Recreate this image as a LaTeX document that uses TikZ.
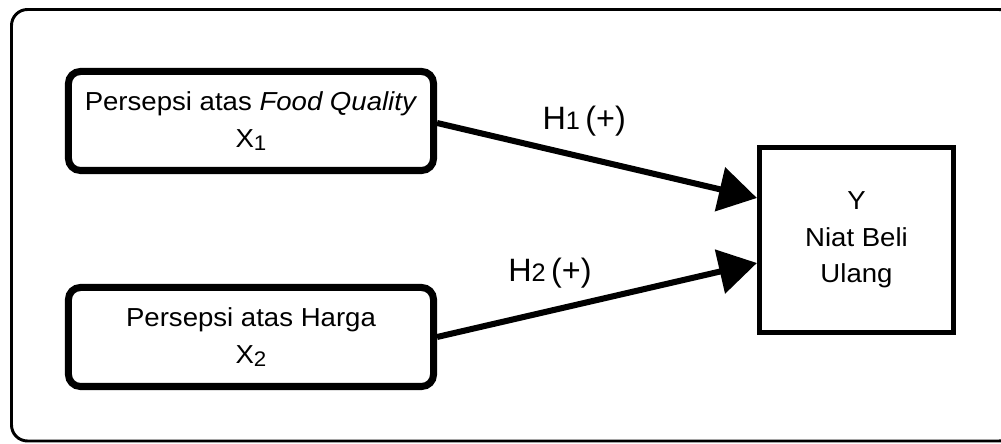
\documentclass[tikz,border=0pt]{standalone}
\usepackage{fontspec}
\setmainfont{Liberation Sans}[FakeStretch=1.06]
\newfontfamily\hypfont{Liberation Sans}
\usetikzlibrary{arrows.meta}
\newcommand{\lowidx}[1]{\raisebox{-0.12em}{\fontsize{15}{15}\selectfont #1}}
\newcommand{\hypidx}[1]{{\fontsize{18}{18}\selectfont #1}}

\begin{document}
\begin{tikzpicture}[x=0.025cm, y=-0.025cm,
    font=\fontsize{18.5}{26}\selectfont,
    varbox/.style={draw, line width=5pt, rounded corners=0.3cm, align=center,
      minimum width=9.125cm, minimum height=2.475cm},
    depbox/.style={draw, line width=3.6pt, align=center,
      minimum width=4.85cm, minimum height=4.625cm},
    hyplabel/.style={font=\hypfont\fontsize{23}{26}\selectfont},
    hyp/.style={line width=4.3pt, -{Triangle[length=0.95cm, width=1.1cm]}}]
    \useasboundingbox (0,0) rectangle (1001,444);
    \draw[line width=2.1pt, rounded corners=0.4cm] (11.5,9.5) rectangle (1015,441);
    \node[varbox] (fq) at (251,121) {Persepsi atas \textit{Food Quality}\\X\lowidx{1}};
    \node[varbox] (harga) at (251,337) {Persepsi atas Harga\\X\lowidx{2}};
    \node[depbox] (niat) at (856.5,240) {Y\\Niat Beli\\Ulang};
    \draw[hyp] ([yshift=-0.05cm]fq.east) -- ([yshift=1.05cm]niat.west)
      node[hyplabel, pos=0.46, yshift=0.9cm] {H\hypidx{1}\,(+)};
    \draw[hyp] (harga.east) -- ([yshift=-0.575cm]niat.west)
      node[hyplabel, pos=0.353, yshift=0.95cm] {H\hypidx{2}\,(+)};
  \end{tikzpicture}
\end{document}
